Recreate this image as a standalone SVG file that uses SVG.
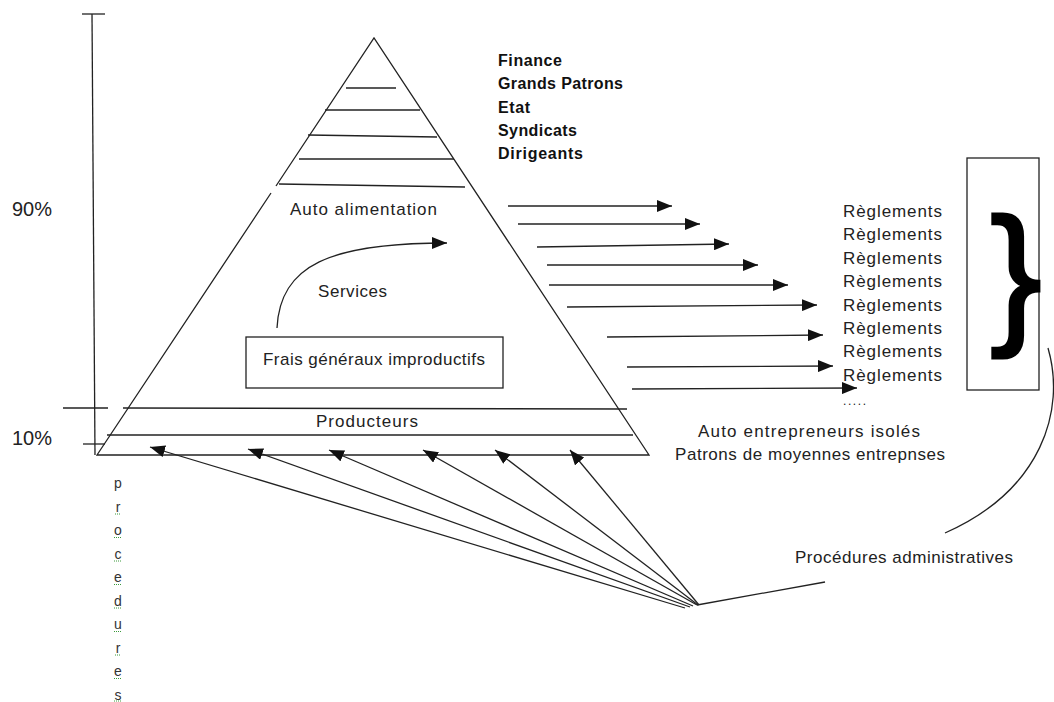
<svg xmlns="http://www.w3.org/2000/svg" width="1054" height="702" viewBox="0 0 1054 702">
<style>
.ln{stroke:#222;stroke-width:1.3;fill:none}
.t{font-family:"Liberation Sans",Arial,sans-serif;font-size:17px;fill:#222}
.p{font-family:"Liberation Sans",Arial,sans-serif;font-size:20px;fill:#222}
.b{font-family:"Liberation Sans",Arial,sans-serif;font-size:16px;font-weight:bold;fill:#111}
.v{font-family:"Liberation Sans",Arial,sans-serif;font-size:14px;fill:#333;text-anchor:middle}
.sp{stroke:#3a9a3a;stroke-width:1;stroke-dasharray:1 1}
</style>
<defs>
<marker id="ah" markerUnits="userSpaceOnUse" markerWidth="15" markerHeight="12" refX="15" refY="6" orient="auto">
<path d="M0,0 L15,6 L0,12 z" fill="#111"/>
</marker>
</defs>
<rect width="1054" height="702" fill="#fff"/>

<g id="scale">
<path class="ln" d="M92,14 L95,455"/>
<path class="ln" d="M82,14 L105,14"/>
<path class="ln" d="M63,408 L108,408"/>
<path class="ln" d="M83,444 L105,444"/>
<text class="p" x="12" y="216">90%</text>
<text class="p" x="12" y="445">10%</text>
</g>

<g id="pyramid">
<path class="ln" d="M276,186 L374,38 L649,455 L97,455 L271,193"/>
<path class="ln" d="M346,88 L396,88"/>
<path class="ln" d="M325,110 L420,110"/>
<path class="ln" d="M308,135 L437,137"/>
<path class="ln" d="M299,159 L454,159"/>
<path class="ln" d="M279,184 L465,187"/>
<path class="ln" d="M123,408 L627,409"/>
<path class="ln" d="M107,435 L633,435"/>
<text class="t" x="290" y="215" textLength="147">Auto alimentation</text>
<text class="t" x="318" y="297" textLength="69">Services</text>
<text class="t" x="316" y="427" textLength="102">Producteurs</text>
</g>

<g id="frais">
<rect class="ln" x="246" y="337" width="257" height="51"/>
<text class="t" x="263" y="365" textLength="222">Frais généraux improductifs</text>
</g>

<g id="elite">
<text class="b" x="498" y="66" textLength="64">Finance</text>
<text class="b" x="498" y="89" textLength="125">Grands Patrons</text>
<text class="b" x="498" y="113" textLength="32">Etat</text>
<text class="b" x="498" y="136" textLength="79">Syndicats</text>
<text class="b" x="498" y="159" textLength="85">Dirigeants</text>
</g>

<g id="reglements">
<text class="t" x="843" y="217" textLength="99">Règlements</text>
<text class="t" x="843" y="240.4" textLength="99">Règlements</text>
<text class="t" x="843" y="263.8" textLength="99">Règlements</text>
<text class="t" x="843" y="287.2" textLength="99">Règlements</text>
<text class="t" x="843" y="310.6" textLength="99">Règlements</text>
<text class="t" x="843" y="334" textLength="99">Règlements</text>
<text class="t" x="843" y="357.4" textLength="99">Règlements</text>
<text class="t" x="843" y="380.8" textLength="99">Règlements</text>
<text class="t" x="843" y="405" style="font-size:12px" textLength="23">.....</text>
</g>

<g id="brace-box">
<rect class="ln" x="967" y="158" width="72" height="232"/>
<text x="1016" y="326" style="font-family:'Liberation Sans',Arial,sans-serif;font-size:154px" text-anchor="middle" fill="#000" stroke="#000" stroke-width="3">}</text>
</g>

<g id="patrons">
<text class="t" x="698" y="437" textLength="222">Auto entrepreneurs isolés</text>
<text class="t" x="675" y="460" textLength="270">Patrons de moyennes entrepnses</text>
</g>

<g id="procedures-admin">
<text class="t" x="795" y="563" textLength="218">Procédures administratives</text>
</g>

<g id="procedures-vertical">
<text class="v" x="118" y="488">p</text>
<text class="v" x="118" y="511.5">r</text>
<text class="v" x="118" y="535">o</text>
<text class="v" x="118" y="558.5">c</text>
<text class="v" x="118" y="582">e</text>
<text class="v" x="118" y="605.5">d</text>
<text class="v" x="118" y="629">u</text>
<text class="v" x="118" y="652.5">r</text>
<text class="v" x="118" y="676">e</text>
<text class="v" x="118" y="699.5">s</text>
<path class="sp" d="M115,514 h6 M114,537.5 h8 M114,561 h8 M114,584.5 h8 M114,608 h8 M114,631.5 h8 M115,655 h6 M114,678.5 h8 M114,701 h8"/>
</g>

<g id="connectors">
<path class="ln" d="M277,328 C280,265 330,243 447,243" marker-end="url(#ah)"/>
<path class="ln" d="M508,206 L672,206" marker-end="url(#ah)"/>
<path class="ln" d="M518,224 L700,224" marker-end="url(#ah)"/>
<path class="ln" d="M537,247 L729,244" marker-end="url(#ah)"/>
<path class="ln" d="M547,265 L758,265" marker-end="url(#ah)"/>
<path class="ln" d="M549,285 L788,285" marker-end="url(#ah)"/>
<path class="ln" d="M567,307 L817,305" marker-end="url(#ah)"/>
<path class="ln" d="M607,337 L823,335" marker-end="url(#ah)"/>
<path class="ln" d="M627,367 L833,366" marker-end="url(#ah)"/>
<path class="ln" d="M632,389 L857,388" marker-end="url(#ah)"/>
<path class="ln" d="M685,608 L150,447" marker-end="url(#ah)"/>
<path class="ln" d="M690,607 L248,449" marker-end="url(#ah)"/>
<path class="ln" d="M693,606 L329,450" marker-end="url(#ah)"/>
<path class="ln" d="M697,605 L423,450" marker-end="url(#ah)"/>
<path class="ln" d="M698,605 L495,450" marker-end="url(#ah)"/>
<path class="ln" d="M699,605 L570,450" marker-end="url(#ah)"/>
<path class="ln" d="M697,605 L825,582"/>
<path class="ln" d="M1048,348 C1066,410 1042,490 945,533"/>
</g>
</svg>
